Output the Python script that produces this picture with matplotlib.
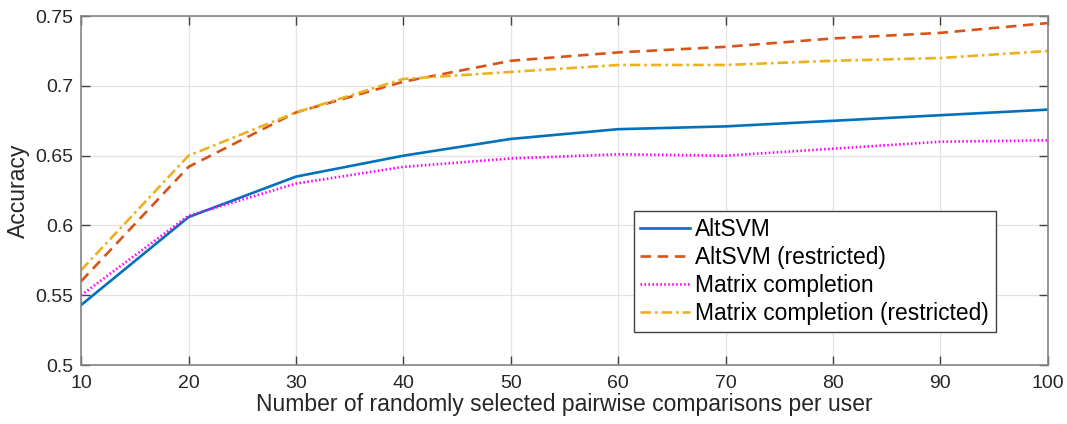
import matplotlib
matplotlib.use('Agg')
import matplotlib.pyplot as plt

# data
comparisons = [10, 20, 30, 40, 50, 60, 70, 80, 90, 100]
altsvm = [0.543, 0.606, 0.635, 0.650, 0.662, 0.669, 0.671, 0.675, 0.679, 0.683]
altsvm_restricted = [0.560, 0.642, 0.681, 0.703, 0.718, 0.724, 0.728, 0.734, 0.738, 0.745]
matrix_completion = [0.550, 0.607, 0.630, 0.642, 0.648, 0.651, 0.650, 0.655, 0.660, 0.661]
matrix_completion_restricted = [0.568, 0.650, 0.681, 0.705, 0.710, 0.715, 0.715, 0.718, 0.720, 0.725]

xticks = [10, 20, 30, 40, 50, 60, 70, 80, 90, 100]
yticks = [0.5, 0.55, 0.6, 0.65, 0.7, 0.75]
ytick_labels = ['0.5', '0.55', '0.6', '0.65', '0.7', '0.75']

plt.rcParams['font.family'] = ['Liberation Sans', 'DejaVu Sans']

fig = plt.figure(figsize=(10.67, 4.24), dpi=100)
ax = fig.add_axes([0.076, 0.139, 0.906, 0.823])

ax.plot(comparisons, altsvm, color='#0072BD', lw=1.9, label='AltSVM')
ax.plot(comparisons, altsvm_restricted, color='#D95319', lw=1.9, ls=(0, (4, 2.5)),
        label='AltSVM (restricted)')
ax.plot(comparisons, matrix_completion, color='#FF00FF', lw=1.9, ls=(0, (0.6, 0.9)),
        label='Matrix completion')
ax.plot(comparisons, matrix_completion_restricted, color='#EDB120', lw=1.9,
        ls=(0, (4, 1.5, 1, 1.5)), label='Matrix completion (restricted)')

ax.set_xlim(10, 100)
ax.set_ylim(0.5, 0.75)
ax.set_xticks(xticks)
ax.set_yticks(yticks)
ax.set_yticklabels(ytick_labels)
ax.grid(True, color='#e3e3e3', lw=0.9)
ax.set_axisbelow(True)

ax.tick_params(direction='in', top=True, right=True, length=6.5, width=1,
               color='#404040', labelcolor='#262626', labelsize=14)
ax.tick_params(axis='x', pad=7)
ax.tick_params(axis='y', pad=5.5)
for sp in ax.spines.values():
    sp.set_color('#858585')
    sp.set_linewidth(1.2)

ax.set_xlabel('Number of randomly selected pairwise comparisons per user',
              fontsize=16.5, color='#262626', labelpad=1)
ax.set_ylabel('Accuracy', fontsize=16.5, color='#262626', labelpad=4)

leg = ax.legend(loc='lower right', bbox_to_anchor=(0.946, 0.095), fontsize=16.4,
                frameon=True, fancybox=False, framealpha=1, edgecolor='#404040',
                handlelength=2.2, handletextpad=0.2, labelspacing=0.22,
                borderpad=0.3, borderaxespad=0)
leg.get_frame().set_linewidth(1.0)

fig.savefig('out.png', dpi=100)
